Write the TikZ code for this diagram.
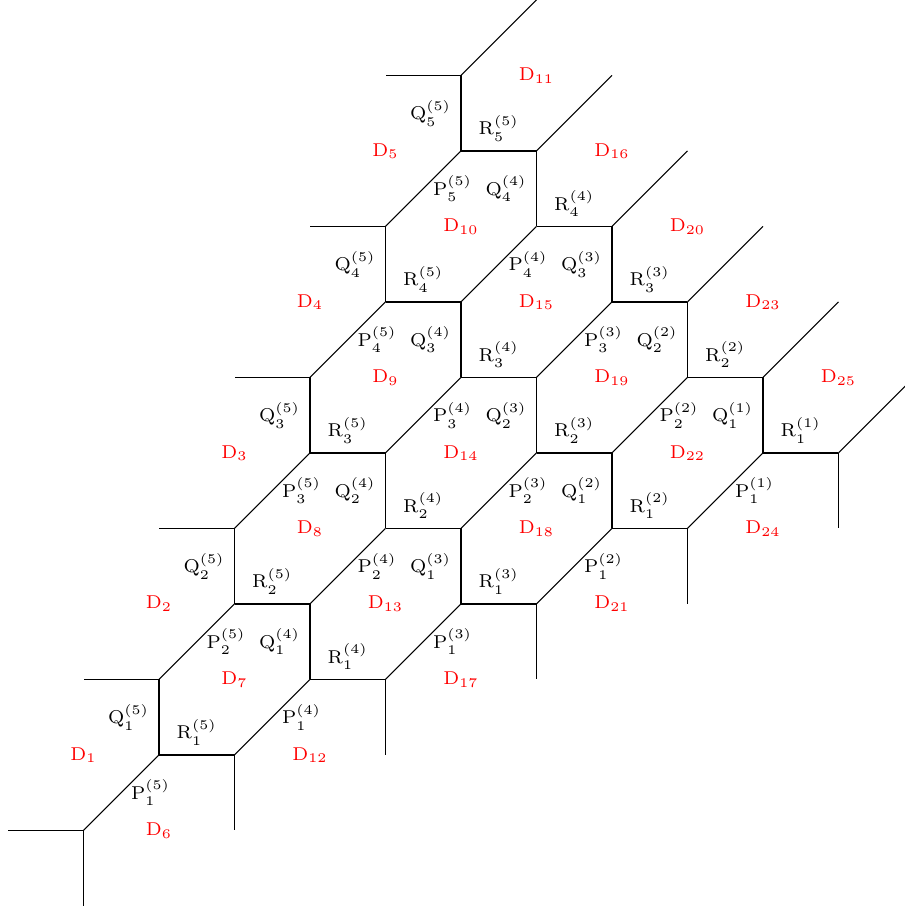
\documentclass[tikz,border=0pt]{standalone}
\begin{document}
\begin{tikzpicture}[x=1cm,y=1cm,
  edge/.style={draw=black, line width=0.4pt},
  lab/.style={font=\scriptsize, inner sep=3.5pt},
  dlab/.style={font=\scriptsize, text=red, inner sep=0pt}]
\useasboundingbox (-0.106,-0.04) rectangle (11.868,12.0);
% start, bottom stub and end coordinates of each column
\foreach \k in {0,...,5}{
  \pgfmathtruncatemacro{\sx}{2*\k+1}
  \pgfmathtruncatemacro{\sy}{\k+1}
  \pgfmathtruncatemacro{\ex}{\k+7}
  \pgfmathtruncatemacro{\ey}{12-\k}
  \coordinate (s\k) at (\sx,\sy);
  \coordinate (b\k) at (\sx,\k);
  \coordinate (e\k) at (\ex,\ey);
}
% lower, upper and right vertices
\foreach \k in {0,...,4}{
  \pgfmathtruncatemacro{\mx}{4-\k}
  \foreach \m in {0,...,\mx}{
    \pgfmathtruncatemacro{\lx}{2*\k+2+\m}
    \pgfmathtruncatemacro{\ly}{\k+2+2*\m}
    \pgfmathtruncatemacro{\uy}{\k+3+2*\m}
    \pgfmathtruncatemacro{\rx}{2*\k+3+\m}
    \coordinate (l\k-\m) at (\lx,\ly);
    \coordinate (u\k-\m) at (\lx,\uy);
    \coordinate (r\k-\m) at (\rx,\ly);
  }
}
% left stubs of first column
\coordinate (ws) at (0,1);
\foreach \m in {0,...,4}{
  \pgfmathtruncatemacro{\wx}{1+\m}
  \pgfmathtruncatemacro{\wy}{3+2*\m}
  \coordinate (w\m) at (\wx,\wy);
}
% edges
\draw[edge] (s0) -- (ws);
\foreach \k in {0,...,5} \draw[edge] (s\k) -- (b\k);
\foreach \k in {0,...,4}{
  \pgfmathtruncatemacro{\mx}{4-\k}
  \pgfmathtruncatemacro{\sn}{5-\k}
  \foreach \m in {0,...,\mx}{
    \pgfmathtruncatemacro{\pv}{\m-1}
    \pgfmathtruncatemacro{\idx}{\m+1}
    \ifnum\m=0 \edef\prevpt{s\k}\else \edef\prevpt{u\k-\pv}\fi
    \draw[edge] (\prevpt) -- node[lab,right] {$\mathrm{P}_{\idx}^{(\sn)}$} (l\k-\m);
    \draw[edge] (l\k-\m) -- node[lab,left] {$\mathrm{Q}_{\idx}^{(\sn)}$} (u\k-\m);
    \draw[edge] (l\k-\m) -- node[lab,above] {$\mathrm{R}_{\idx}^{(\sn)}$} (r\k-\m);
  }
  \draw[edge] (u\k-\mx) -- (e\k);
}
\draw[edge] (s5) -- (e5);
\foreach \m in {0,...,4} \draw[edge] (u0-\m) -- (w\m);
% region labels
\foreach \n/\x/\y in {1/1/2,2/2/4,3/3/6,4/4/8,5/5/10,
  6/2/1,7/3/3,8/4/5,9/5/7,10/6/9,11/7/11,
  12/4/2,13/5/4,14/6/6,15/7/8,16/8/10,
  17/6/3,18/7/5,19/8/7,20/9/9,
  21/8/4,22/9/6,23/10/8,
  24/10/5,25/11/7}
  \node[dlab] (d\n) at (\x,\y) {$\mathrm{D}_{\n}$};
\end{tikzpicture}
\end{document}
